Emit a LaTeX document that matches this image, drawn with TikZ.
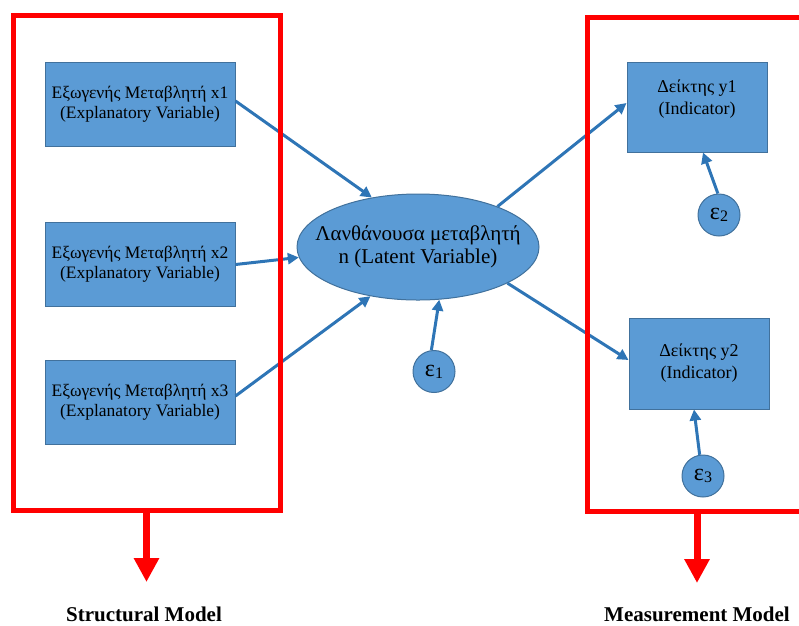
\documentclass[tikz,border=0pt]{standalone}
\usepackage{fontspec}
\setmainfont{Liberation Serif}
\usetikzlibrary{arrows.meta,shapes.geometric}
\definecolor{boxfill}{HTML}{5B9BD5}
\definecolor{boxline}{HTML}{41719C}
\definecolor{linkblue}{HTML}{2E75B6}
\definecolor{framered}{HTML}{FF0000}
\newcommand{\eps}[1]{ε{\fontsize{16}{16}\selectfont\raisebox{-2pt}{#1}}}
\begin{document}
\begin{tikzpicture}[x=1pt,y=-1pt,
  xbox/.style={draw=boxline, line width=1pt, fill=boxfill, minimum width=190pt,
    minimum height=84pt, inner sep=0pt, align=center,
    font=\fontsize{17.5}{20}\selectfont},
  ybox/.style={draw=boxline, line width=1pt, fill=boxfill, minimum width=140pt,
    minimum height=90pt, inner sep=0pt},
  ytext/.style={align=center, inner sep=0pt, font=\fontsize{18}{22}\selectfont},
  latent/.style={ellipse, draw=boxline, line width=1pt, fill=boxfill,
    minimum width=242pt, minimum height=106pt, inner sep=0pt},
  lattext/.style={align=center, inner sep=0pt, font=\fontsize{21}{23}\selectfont},
  errc/.style={circle, draw=boxline, line width=1pt, fill=boxfill,
    minimum size=42pt, inner sep=0pt, font=\fontsize{24}{24}\selectfont},
  link/.style={draw=linkblue, line width=3pt,
    -{Triangle[length=11pt,width=11pt]}},
  modelframe/.style={draw=framered, line width=5pt, inner sep=0pt},
  modelarrow/.style={draw=framered, line width=7pt,
    -{Triangle[length=24pt,width=24pt]}},
  modellabel/.style={font=\bfseries\fontsize{21}{21}\selectfont, inner sep=0pt}
]
\useasboundingbox (0,0) rectangle (799,625);

% exogenous variables
\node[xbox] (x1) at (140,104.5) {Εξωγενής Μεταβλητή x1\\(Explanatory Variable)};
\node[xbox] (x2) at (140,264.5) {Εξωγενής Μεταβλητή x2\\(Explanatory Variable)};
\node[xbox] (x3) at (140,402.5) {Εξωγενής Μεταβλητή x3\\(Explanatory Variable)};

% latent variable
\node[latent] (lat) at (418,247) {};
\node[lattext] (latt) at (lat.center) {Λανθάνουσα μεταβλητή\\n (Latent Variable)};

% indicators
\node[ybox, minimum height=90pt] (y1) at (697,107) {};
\node[ytext] (y1t) at ([yshift=8pt]y1.center) {Δείκτης y1\\(Indicator)};
\node[ybox, minimum height=91pt] (y2) at (699,363.5) {};
\node[ytext] (y2t) at (y2.center) {Δείκτης y2\\(Indicator)};

% error terms
\node[errc] (e1) at (434,371.5) {\eps{1}};
\node[errc] (e2) at (719,215) {\eps{2}};
\node[errc] (e3) at (703,476) {\eps{3}};

% structural paths
\draw[link] ([yshift=3.5pt]x1.east) -- (lat.133);
\draw[link] (x2.east) -- (lat.185);
\draw[link] ([yshift=6.5pt]x3.east) -- (lat.226);
\draw[link] (e1.97) -- (lat.292);

% measurement paths
\draw[link] (lat.27) -- ([yshift=4pt]y1.west);
\draw[link] (lat.338) -- ([yshift=3.5pt]y2.west);
\draw[link] (e2.93) -- ([xshift=6pt]y1.south);
\draw[link] (e3.99) -- ([xshift=-5pt]y2.south);

% model frames
\node[modelframe, minimum width=267pt, minimum height=494.5pt] (sframe) at (146.5,262.75) {};
\node[modelframe, minimum width=220pt, minimum height=494pt] (mframe) at (697,264) {};

\coordinate (stip) at (146.5,582);
\coordinate (mtip) at (697,583);
\draw[modelarrow] (sframe.south) -- (stip);
\draw[modelarrow] (mframe.south) -- (mtip);

\node[modellabel] (slabel) at (144,614) {Structural Model};
\node[modellabel] (mlabel) at (697,614) {Measurement Model};
\end{tikzpicture}
\end{document}
